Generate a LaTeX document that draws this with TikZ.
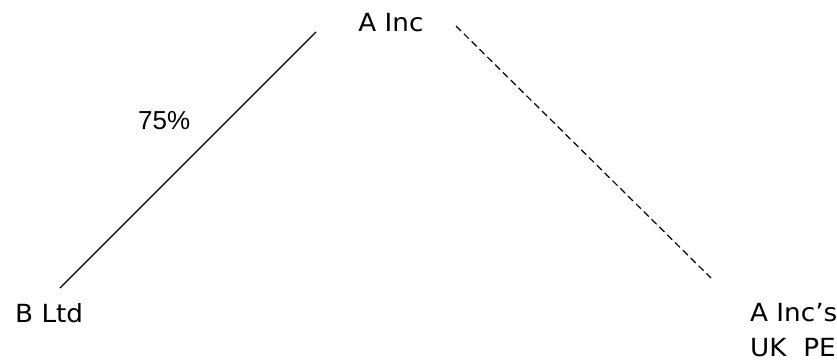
\documentclass[tikz,border=0pt]{standalone}
\usepackage{fontspec}
\setmainfont[FakeStretch=1.05]{DejaVu Sans}
\newfontfamily\pctfont{Liberation Sans}
\usetikzlibrary{positioning}

\begin{document}
\begin{tikzpicture}[
  x=1pt, y=-1pt,
  lbl/.style={inner sep=0pt, font=\fontsize{25}{35}\selectfont},
  pctlbl/.style={inner sep=0pt, font=\pctfont\fontsize{26}{30}\selectfont},
  owned/.style={line width=1.2pt, draw=black},
  pe/.style={line width=1.2pt, draw=black, dash pattern=on 7pt off 4pt},
]
\useasboundingbox (0,0) rectangle (837,361);

% Entities
\node[lbl, anchor=base] (ainc) at (391,32) {A Inc};
\node[lbl, anchor=base west] (bltd) at (15,322) {B Ltd};
\node[lbl, anchor=base west, align=left, text depth=0pt] (ukpe) at (750,356) {A Inc's\\UK~~PE};

% Shareholding
\node[pctlbl, anchor=base west] (share) at (138,129) {75\%};

% Connector ends
\coordinate (bltdtop) at (60,288);
\coordinate (aincleft) at (316,32);
\coordinate (aincright) at (456,26);
\coordinate (ukpetop) at (711,278);

\draw[owned] (bltdtop) -- (aincleft);
\draw[pe] (aincright) -- (ukpetop);
\end{tikzpicture}
\end{document}
